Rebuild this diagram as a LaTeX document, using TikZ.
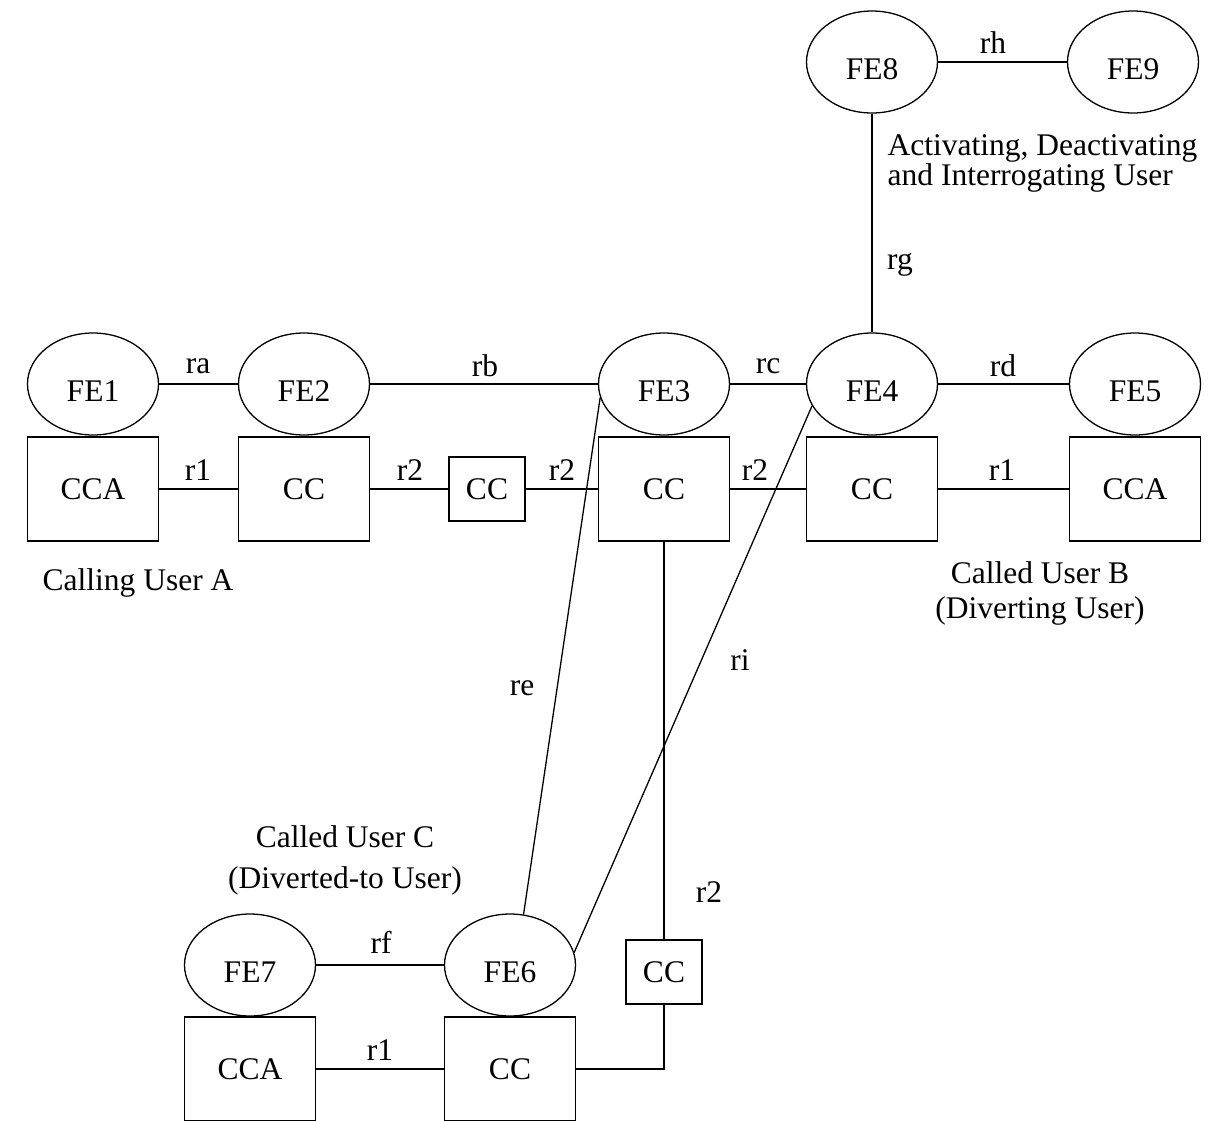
\documentclass[tikz,border=0pt]{standalone}
\usepackage{fontspec}
\setmainfont{Liberation Serif}
\usetikzlibrary{shapes.geometric}
\newcommand\mytightlines{\lineskiplimit-50pt\relax}
\begin{document}
\begin{tikzpicture}[x=1pt,y=-1pt,line width=1.3pt,
  fe/.style={draw, ellipse, minimum width=131pt, minimum height=102pt, inner sep=0pt, text height=34pt, text depth=0pt},
  bx/.style={draw, rectangle, minimum width=131pt, minimum height=104pt, inner sep=0pt},
  sbx/.style={draw, rectangle, minimum width=76pt, minimum height=64pt, inner sep=0pt},
  lab/.style={inner sep=0pt},
  every node/.style={font=\fontsize{31.5}{34}\selectfont}]
\useasboundingbox (0,0) rectangle (1211,1120);
% top
\node[fe] (FE8) at (872,62) {FE8};
\node[fe] (FE9) at (1133,62) {FE9};
% middle row ellipses
\node[fe] (FE1) at (93,384) {FE1};
\node[fe] (FE2) at (304,384) {FE2};
\node[fe] (FE3) at (664,384) {FE3};
\node[fe] (FE4) at (872,384) {FE4};
\node[fe] (FE5) at (1135,384) {FE5};
% middle row boxes
\node[bx] (CCA1) at (93,489) {CCA};
\node[bx] (CC2) at (304,489) {CC};
\node[sbx] (sCC) at (487,489) {CC};
\node[bx] (CC3) at (664,489) {CC};
\node[bx] (CC4) at (872,489) {CC};
\node[bx] (CCA5) at (1135,489) {CCA};
% bottom
\node[fe] (FE7) at (250,965) {FE7};
\node[fe] (FE6) at (510,965) {FE6};
\node[sbx] (sCC2) at (664,972) {CC};
\node[bx] (CCA7) at (250,1069) {CCA};
\node[bx] (CC6) at (510,1069) {CC};
% connectors
\draw (FE8) -- (FE9);
\draw (FE8) -- (FE4);
\draw (FE1) -- (FE2);
\draw (FE2) -- (FE3);
\draw (FE3) -- (FE4);
\draw (FE4) -- (FE5);
\draw (CCA1) -- (CC2);
\draw (CC2) -- (sCC);
\draw (sCC) -- (CC3);
\draw (CC3) -- (CC4);
\draw (CC4) -- (CCA5);
\draw (FE3.192) -- (FE6.75);
\draw (FE4.200) -- (FE6.11);
\draw (CC3) -- (sCC2);
\draw (sCC2.south) |- (CC6.east);
\draw (FE7) -- (FE6);
\draw (CCA7) -- (CC6);
% labels
\node[lab] (lrh) at (993,43) {rh};
\node[lab,anchor=north west,align=left,font=\fontsize{31.5}{29.5}\selectfont\mytightlines] (lact) at (887,134) {Activating, Deactivating\\and Interrogating User};
\node[lab] (lrg) at (900,265) {rg};
\node[lab] (lra) at (198,366) {ra};
\node[lab] (lrb) at (485,366) {rb};
\node[lab] (lrc) at (768,366) {rc};
\node[lab] (lrd) at (1003,366) {rd};
\node[lab] (lr1a) at (198,470) {r1};
\node[lab] (lr2a) at (410,470) {r2};
\node[lab] (lr2b) at (562,470) {r2};
\node[lab] (lr2c) at (755,470) {r2};
\node[lab] (lr1b) at (1002,470) {r1};
\node[lab] (lcalA) at (138,583) {Calling User A};
\node[lab,align=center,font=\fontsize{31.5}{35}\selectfont] (lcalB) at (1040,593) {Called User B\\(Diverting User)};
\node[lab] (lre) at (522,688) {re};
\node[lab] (lri) at (740,660) {ri};
\node[lab,align=center,font=\fontsize{31.5}{41}\selectfont] (lcalC) at (345,860) {Called User C\\(Diverted-to User)};
\node[lab] (lr2d) at (709,892) {r2};
\node[lab] (lrf) at (381,942) {rf};
\node[lab] (lr1c) at (380,1050) {r1};
\end{tikzpicture}
\end{document}
